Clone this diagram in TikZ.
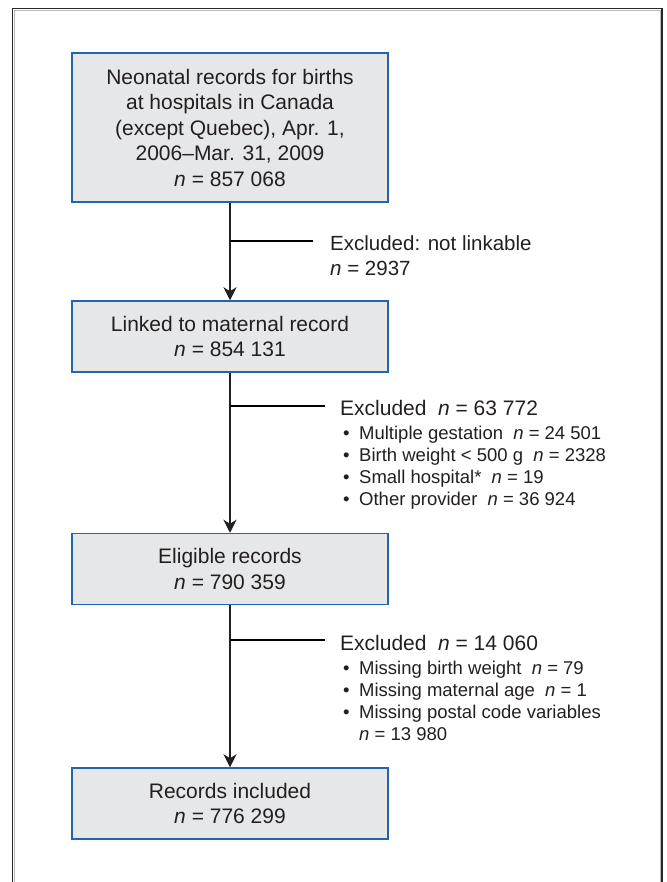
\documentclass[tikz,border=0pt]{standalone}
\usepackage{fontspec}
\setmainfont{Liberation Sans}
\usepackage{tikz}
\usetikzlibrary{arrows.meta}
\definecolor{boxfill}{RGB}{230,231,232}
\definecolor{boxline}{RGB}{35,100,170}
\definecolor{ink}{RGB}{35,31,32}
\newcommand{\nval}{\textit{n}}
\newcommand{\exgap}{\hspace{0.55em}}
\newcommand{\bul}{\makebox[16pt][l]{\textbullet}}

\begin{document}
\begin{tikzpicture}[x=1pt, y=-1pt,
    recbox/.style={draw=boxline, line width=1.5pt, fill=boxfill, text=ink,
        minimum width=316pt, minimum height=71pt, inner sep=0pt, align=center,
        font=\fontsize{21}{25.5}\selectfont},
    exhead/.style={text=ink, inner sep=0pt, align=left, font=\fontsize{20.5}{25}\selectfont},
    exlist/.style={text=ink, inner sep=0pt, align=left, font=\fontsize{18.5}{22}\selectfont},
    flow/.style={draw=ink, line width=1.2pt, -{Stealth[length=13pt, width=13pt, inset=4pt]}},
    branch/.style={draw=black, line width=1.8pt}]
                    \useasboundingbox (0,0) rectangle (666,882);
                    \draw[gray!55, line width=1pt] (14.5,882) -- (14.5,10.5) -- (660,10.5) -- (660,882);
                    \draw[black!85, line width=1.5pt] (12.5,882) -- (12.5,8.5) -- (662,8.5) -- (662,882);

                    \node[recbox, minimum height=149pt] (neonatal) at (230,127.5)
                        {Neonatal records for births\\at hospitals in Canada\\(except Quebec), Apr. 1,\\2006--Mar. 31, 2009\\\nval{} = 857 068};
                    \node[recbox] (linked) at (230,336.5) {Linked to maternal record\\\nval{} = 854 131};
                    \node[recbox] (eligible) at (230,569) {Eligible records\\\nval{} = 790 359};
                    \node[recbox] (included) at (230,803.5) {Records included\\\nval{} = 776 299};

                    \draw[flow] (neonatal.south) -- (linked.north);
                    \draw[flow] (linked.south) -- (eligible.north);
                    \draw[flow] (eligible.south) -- (included.north);

                    \coordinate (brA) at (230,241);
                    \coordinate (brAend) at (313,241);
                    \draw[branch] (brA) -- (brAend);
                    \node[exhead, anchor=north west] (exA) at (330,235.3)
                        {Excluded: not linkable\\\nval{} = 2937};

                    \coordinate (brB) at (230,405.7);
                    \coordinate (brBend) at (325,405.7);
                    \draw[branch] (brB) -- (brBend);
                    \node[exhead, font=\fontsize{21}{25}\selectfont, anchor=base west] (exB) at (340,415)
                        {Excluded\exgap\nval{} = 63 772};
                    \node[exlist, anchor=north west] (exBlist) at (343,425.5)
                        {\bul Multiple gestation\exgap\nval{} = 24 501\\
                         \bul Birth weight < 500 g\exgap\nval{} = 2328\\
                         \bul Small hospital*\exgap\nval{} = 19\\
                         \bul Other provider\exgap\nval{} = 36 924};

                    \coordinate (brC) at (230,640);
                    \coordinate (brCend) at (325,640);
                    \draw[branch] (brC) -- (brCend);
                    \node[exhead, font=\fontsize{21}{25}\selectfont, anchor=base west] (exC) at (340,650)
                        {Excluded\exgap\nval{} = 14 060};
                    \node[exlist, anchor=north west] (exClist) at (343,660.5)
                        {\bul Missing birth weight\exgap\nval{} = 79\\
                         \bul Missing maternal age\exgap\nval{} = 1\\
                         \bul Missing postal code variables\\
                         \hspace*{16pt}\nval{} = 13 980};
                \end{tikzpicture}
\end{document}
